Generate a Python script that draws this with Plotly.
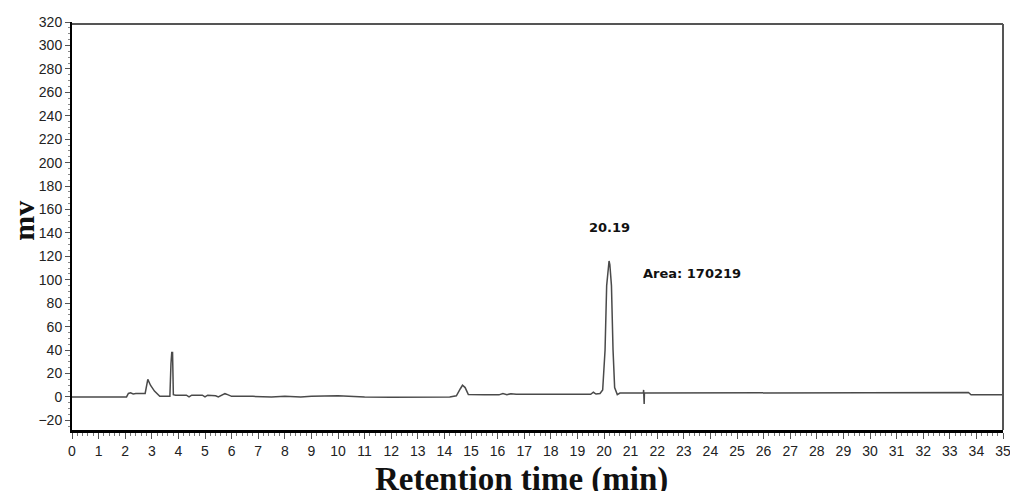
import plotly.graph_objects as go

# Chromatogram trace (retention time in min, signal in mV)
time_min = [0, 2.05, 2.12, 2.2, 2.3, 2.4, 2.75, 2.8, 2.85, 2.95, 3.1, 3.3,
            3.68, 3.72, 3.75, 3.78, 3.81, 3.9, 4.3, 4.4, 4.5, 4.9, 5.0, 5.1,
            5.4, 5.5, 5.6, 5.75, 5.85, 6.0, 6.8, 7.5, 8.0, 8.3, 8.6, 9.0,
            10.0, 11.0, 12.0, 14.2, 14.45, 14.6, 14.68, 14.78, 14.9, 15.5,
            16.05, 16.2, 16.35, 16.5, 16.7, 19.5, 19.6, 19.7, 19.85, 19.95,
            20.04, 20.1, 20.16, 20.19, 20.22, 20.28, 20.34, 20.4, 20.5, 20.6,
            21.48, 21.49, 21.51, 21.52, 33.7, 33.8, 35]
signal_mv = [0, 0, 3, 3.5, 2.5, 3, 3, 10, 15, 10, 5, 0.5,
             0.5, 28, 38, 38, 2, 1.5, 1.5, 0, 1.5, 1.5, 0, 1.5,
             1, 0, 1, 2.8, 2, 0.5, 0.5, 0, 0.5, 0, 0, 0.5,
             1, 0, -0.3, 0, 1, 7, 10, 8, 2, 1.8,
             1.8, 3, 2, 2.8, 2.3, 2.3, 4, 2.5, 3, 6,
             40, 95, 113, 116, 113, 95, 40, 8, 2, 3.3,
             3.3, 6, -6, 3.3, 3.8, 1.8, 1.8]

y_ticks = list(range(-20, 321, 20))
x_ticks = list(range(0, 36))

peak_time = 20.19
peak_label = "20.19"
area_label = "Area: 170219"

fig = go.Figure()
fig.add_trace(go.Scatter(x=time_min, y=signal_mv, mode="lines",
                         line=dict(color="#4a4a4a", width=1.5),
                         showlegend=False, hoverinfo="skip"))

tick_font = dict(family="Liberation Sans, Arial", size=14, color="#222222")

fig.update_layout(
    width=1010, height=491,
    margin=dict(l=72, r=7, t=22, b=61, autoexpand=False),
    paper_bgcolor="white", plot_bgcolor="white",
    xaxis=dict(range=[0, 35], tickvals=x_ticks, ticks="outside", ticklen=6,
               tickcolor="#555555", tickwidth=1, showgrid=False, zeroline=False,
               showline=True, linecolor="black", linewidth=3, automargin=False,
               ticklabeloverflow="allow",
               minor=dict(dtick=0.2, ticks="outside", ticklen=3, tickcolor="#777777"),
               tickfont=tick_font),
    yaxis=dict(range=[-28.2, 320], tickvals=y_ticks, ticks="outside", ticklen=5,
               tickcolor="#555555", tickwidth=1, showgrid=False, zeroline=False,
               showline=True, linecolor="black", linewidth=2, automargin=False,
               minor=dict(dtick=5, ticks="outside", ticklen=2, tickcolor="#888888"),
               tickfont=tick_font),
    shapes=[
        dict(type="line", xref="paper", yref="paper", x0=0, x1=1, y0=0.995, y1=0.995,
             line=dict(color="#555555", width=2)),
        dict(type="line", xref="paper", yref="paper", x0=1, x1=1, y0=0, y1=0.995,
             line=dict(color="#555555", width=2)),
    ],
    annotations=[
        dict(x=peak_time, y=145, xref="x", yref="y", text="<b>" + peak_label + "</b>",
             showarrow=False, font=dict(family="DejaVu Sans", size=13, color="#111111")),
        dict(x=21.4, y=105, xref="x", yref="y", text="<b>" + area_label + "</b>",
             showarrow=False, xanchor="left",
             font=dict(family="DejaVu Sans", size=13, color="#111111")),
        dict(x=0.483, y=-0.072, xref="paper", yref="paper", text="<b>Retention time (min)</b>",
             showarrow=False, xanchor="center", yanchor="top",
             font=dict(family="Liberation Serif, Times New Roman", size=33, color="#111111")),
        dict(x=-0.053, y=0.512, xref="paper", yref="paper", text="<b>mv</b>",
             showarrow=False, textangle=-90, xanchor="center", yanchor="middle",
             font=dict(family="Liberation Serif, Times New Roman", size=30, color="#111111")),
    ],
)

fig.write_html("out.html", config={"displayModeBar": False},
               post_script="document.body.style.margin='0';document.body.style.overflow='hidden';")
